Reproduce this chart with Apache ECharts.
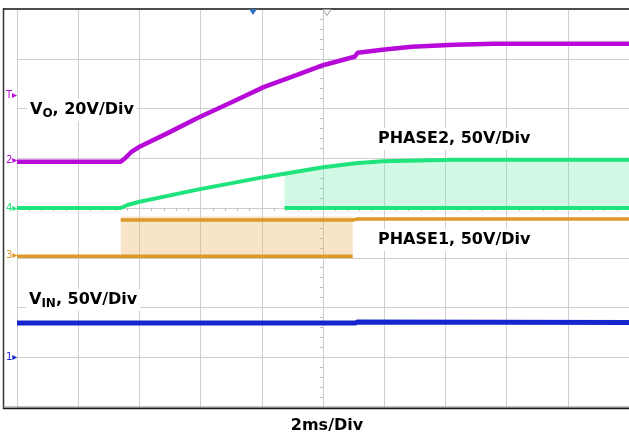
<!DOCTYPE html>
<html>
<head>
<meta charset="utf-8">
<script src="https://cdn.jsdelivr.net/npm/echarts@6/dist/echarts.min.js"></script>
<style>
html,body{margin:0;padding:0;background:#fff;}
#c{width:629px;height:435px;}
</style>
</head>
<body>
<div id="c"></div>
<script>
// time in ms (2 ms/div, 0 = screen centre), level in divisions (0 = screen centre)
const voT = [-10, -6.61, -6.45, -6.26, -6.03, -5.06, -4.10, -2.97, -1.94, -0.87, 0, 1.03, 1.13, 1.94, 2.90, 4.29, 5.58, 10];
const voV = [0.93, 0.93, 1.01, 1.13, 1.22, 1.51, 1.81, 2.13, 2.43, 2.67, 2.87, 3.04, 3.12, 3.18, 3.24, 3.28, 3.30, 3.30];

const p2T = [-10, -6.61, -6.39, -6.03, -4.10, -1.94, 0, 1.06, 1.94, 4.29, 10];
const p2V = [0, 0, 0.06, 0.12, 0.37, 0.62, 0.82, 0.90, 0.94, 0.97, 0.97];
const p2LowT = [-1.26, 10];
const p2LowV = [0, 0];
const p2EnvT = [-1.26, 0, 1.06, 1.94, 4.29, 10];
const p2EnvV = [0.69, 0.82, 0.90, 0.94, 0.97, 0.97];
const p2EnvBase = 0;

const p1HighT = [-6.61, 0.97, 1.13, 10];
const p1HighV = [-0.24, -0.24, -0.22, -0.22];
const p1LowT = [-10, 0.97];
const p1LowV = [-0.97, -0.97];
const p1EnvT = [-6.61, 0.97];
const p1EnvV = [-0.17, -0.17];
const p1EnvBase = -1.02;

const vinT = [-10, 1.06, 1.13, 10];
const vinV = [-2.31, -2.31, -2.29, -2.30];

const zip = (t, v) => t.map((x, i) => [x, v[i]]);

const F = 'DejaVu Sans';
const C = { vo: '#b70ad9', p2: '#1fe47c', p1: '#de982a', vin: '#1626cf' };

const chart = echarts.init(document.getElementById('c'), null, { renderer: 'canvas' });

const richMain = { fontSize: 16, fontWeight: 'bold', fontFamily: F, fill: '#000', lineHeight: 20, verticalAlign: 'middle' };
const richSub = { fontSize: 12, fontWeight: 'bold', fontFamily: F, fill: '#000', lineHeight: 10, verticalAlign: 'bottom' };

function label(txt, x, y) {
  return { type: 'text', z: 50, style: { text: txt, x: x, y: y, verticalAlign: 'middle', backgroundColor: '#fff', padding: [1, 3, 1, 3], rich: { a: richMain, s: richSub } } };
}
function marker(txt, y, color) {
  return { type: 'text', z: 50, style: { text: txt, x: 6, y: y, verticalAlign: 'middle', font: '10px DejaVu Sans', fill: color } };
}

const lineS = (name, data, color, w, z) => ({
  name, type: 'line', data, symbol: 'none', z: z || 5, animation: false,
  lineStyle: { color, width: w }, silent: true
});

chart.setOption({
  animation: false,
  backgroundColor: '#fff',
  grid: { left: 17, top: 9, width: 620, height: 398, containLabel: false },
  xAxis: {
    type: 'value', min: -10, max: 10, interval: 2,
    axisLine: { show: true, onZero: true, lineStyle: { color: '#cdcdcd', width: 1 } },
    axisTick: { show: false }, axisLabel: { show: false },
    minorTick: { show: true, splitNumber: 5, length: 3, lineStyle: { color: '#bdbdbd' } },
    splitLine: { show: true, lineStyle: { color: '#cfcfcf', width: 1 } }
  },
  yAxis: {
    type: 'value', min: -4, max: 4, interval: 1,
    axisLine: { show: true, onZero: true, lineStyle: { color: '#cdcdcd', width: 1 } },
    axisTick: { show: false }, axisLabel: { show: false },
    minorTick: { show: true, splitNumber: 5, length: 3, lineStyle: { color: '#bdbdbd' } },
    splitLine: { show: true, lineStyle: { color: '#cfcfcf', width: 1 } }
  },
  series: [
    Object.assign(lineS('p2env', zip(p2EnvT, p2EnvV), 'rgba(0,0,0,0)', 0, 2),
      { areaStyle: { color: 'rgba(100,234,165,0.42)', origin: p2EnvBase } }),
    Object.assign(lineS('p1env', zip(p1EnvT, p1EnvV), 'rgba(0,0,0,0)', 0, 2),
      { areaStyle: { color: 'rgba(236,178,100,0.5)', origin: p1EnvBase } }),
    lineS('VIN', zip(vinT, vinV), C.vin, 5),
    lineS('PHASE1 low', zip(p1LowT, p1LowV), C.p1, 3.5),
    lineS('PHASE1 high', zip(p1HighT, p1HighV), C.p1, 3.5),
    lineS('PHASE2 low', zip(p2LowT, p2LowV), C.p2, 4),
    lineS('PHASE2', zip(p2T, p2V), C.p2, 4),
    lineS('VO', zip(voT, voV), C.vo, 4.5)
  ],
  graphic: [
    { type: 'line', z: 40, shape: { x1: 3, y1: 9, x2: 629, y2: 9 }, style: { stroke: '#4d4a48', lineWidth: 2 } },
    { type: 'line', z: 40, shape: { x1: 3.5, y1: 8, x2: 3.5, y2: 409 }, style: { stroke: '#333', lineWidth: 1.5 } },
    { type: 'line', z: 40, shape: { x1: 3, y1: 407, x2: 629, y2: 407 }, style: { stroke: '#8a8a8a', lineWidth: 1 } },
    { type: 'line', z: 40, shape: { x1: 3, y1: 408.5, x2: 629, y2: 408.5 }, style: { stroke: '#201a14', lineWidth: 1.5 } },
    { type: 'polygon', z: 41, shape: { points: [[249, 9], [257, 9], [253, 15]] }, style: { fill: '#2f6fc0' } },
    { type: 'polygon', z: 41, shape: { points: [[323, 9.5], [331, 9.5], [327, 15.5]] }, style: { fill: '#fff', stroke: '#9a9a9a', lineWidth: 1 } },
    label('{a|V}{s|O}{a|, 20V/Div}', 27, 110),
    label('{a|PHASE2, 50V/Div}', 375, 139),
    label('{a|PHASE1, 50V/Div}', 375, 240),
    label('{a|V}{s|IN}{a|, 50V/Div}', 26, 300),
    { type: 'text', z: 50, style: { text: '2ms/Div', x: 327, y: 426, align: 'center', verticalAlign: 'middle', font: 'bold 16px DejaVu Sans', fill: '#000' } },
    marker('T\u25B8', 95, C.vo),
    marker('2\u25B8', 160, C.vo),
    marker('4\u25B8', 208, C.p2),
    marker('3\u25B8', 255, C.p1),
    marker('1\u25B8', 357, C.vin)
  ]
});
</script>
</body>
</html>
